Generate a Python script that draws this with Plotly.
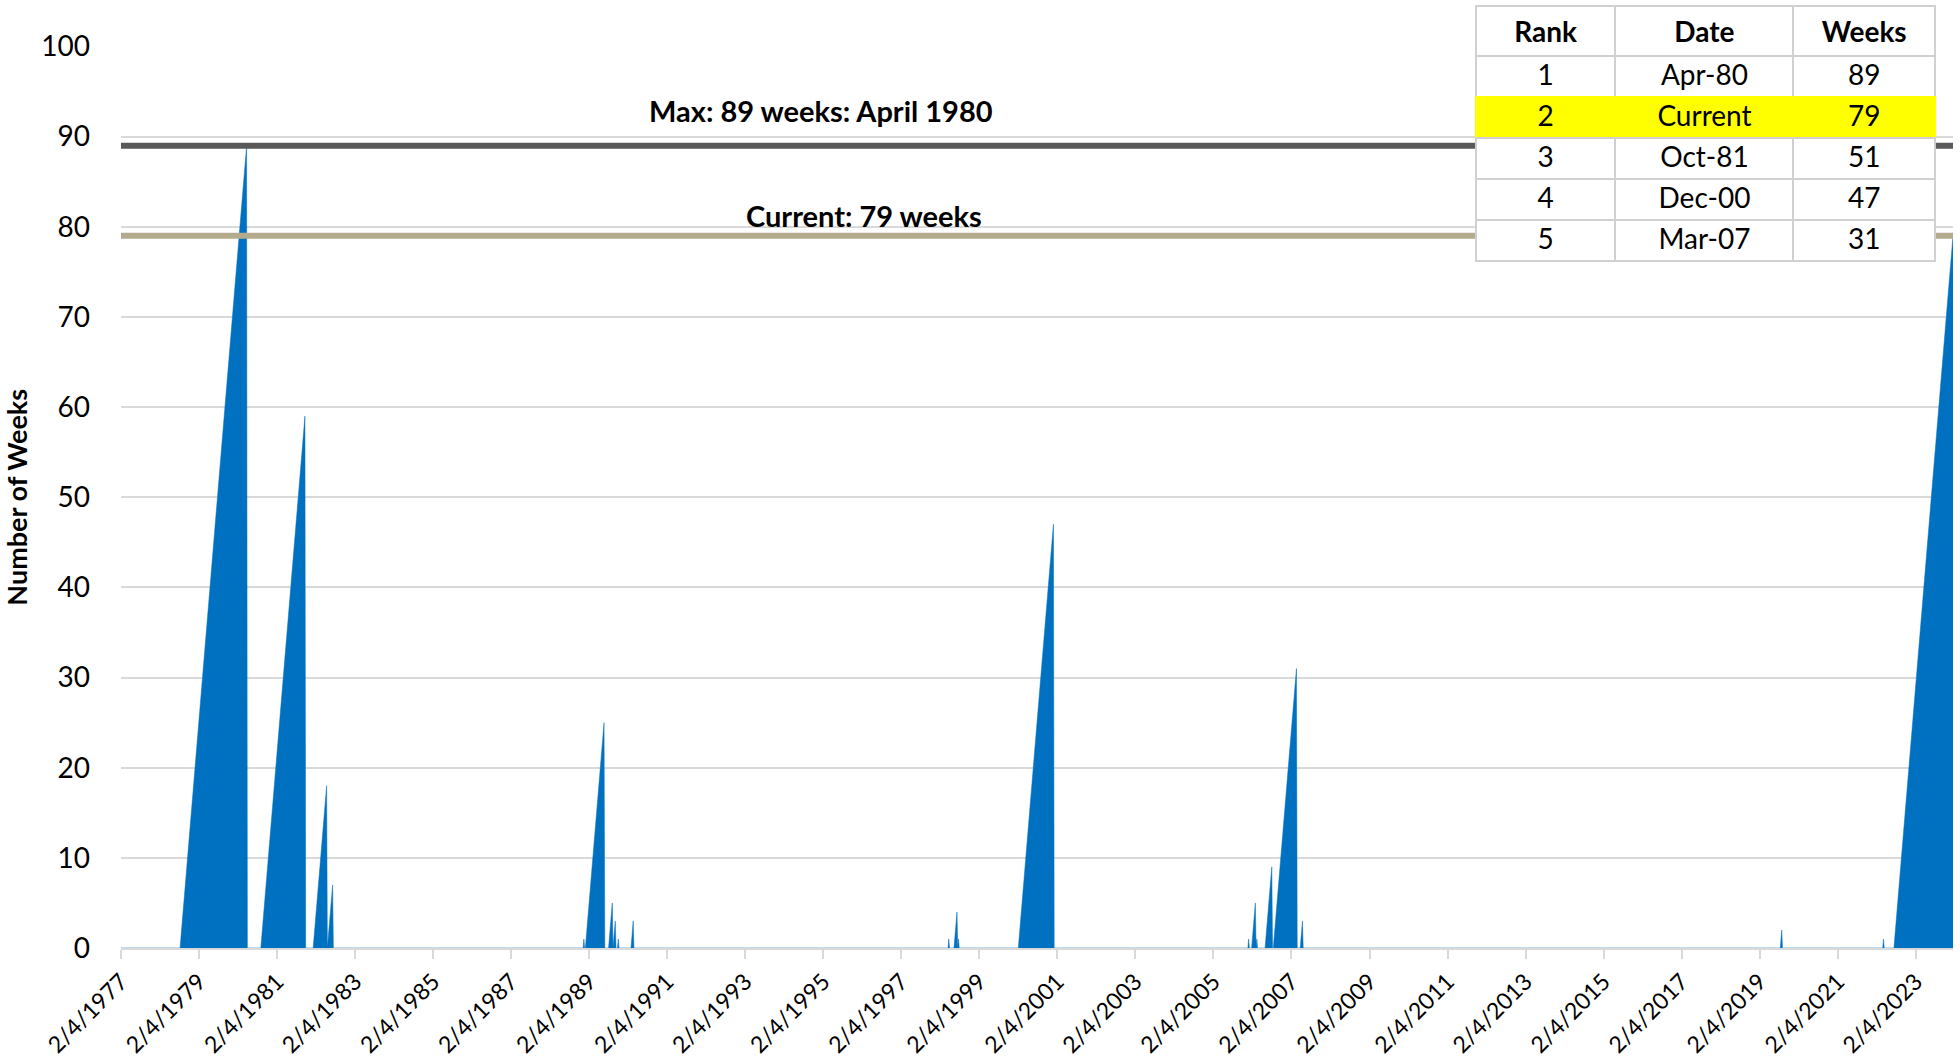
import plotly.graph_objects as go

# vertices of the inversion-streak area (week counter, resets to 0)
vertex_dates = [
    "1977-02-04", "1978-08-11", "1980-04-25", "1980-05-02",
    "1980-09-05", "1981-10-23", "1981-10-30",
    "1982-01-08", "1982-05-14", "1982-05-21", "1982-07-09", "1982-07-16",
    "1988-12-09", "1988-12-16", "1988-12-23",
    "1988-12-30", "1989-06-23", "1989-06-30",
    "1989-08-04", "1989-09-08", "1989-09-15", "1989-10-06", "1989-10-13",
    "1989-10-27", "1989-11-03", "1989-11-10",
    "1990-03-02", "1990-03-23", "1990-03-30",
    "1998-04-17", "1998-04-24", "1998-05-01",
    "1998-06-12", "1998-07-10", "1998-07-17", "1998-07-24", "1998-07-31",
    "2000-02-04", "2000-12-29", "2001-01-05",
    "2005-12-23", "2005-12-30", "2006-01-06",
    "2006-01-27", "2006-03-03", "2006-03-10", "2006-03-17", "2006-03-24",
    "2006-06-02", "2006-08-04", "2006-08-11",
    "2006-08-18", "2007-03-23", "2007-03-30",
    "2007-04-27", "2007-05-18", "2007-05-25",
    "2019-08-16", "2019-08-30", "2019-09-06",
    "2022-04-01", "2022-04-08", "2022-04-15",
    "2022-07-15", "2024-01-19",
]
weeks_inverted = [
    0, 0, 89, 0,
    0, 59, 0,
    0, 18, 0, 7, 0,
    0, 1, 0,
    0, 25, 0,
    0, 5, 0, 3, 0,
    0, 1, 0,
    0, 3, 0,
    0, 1, 0,
    0, 4, 0, 1, 0,
    0, 47, 0,
    0, 1, 0,
    0, 5, 0, 1, 0,
    0, 9, 0,
    0, 31, 0,
    0, 3, 0,
    0, 2, 0,
    0, 1, 0,
    0, 79,
]

max_weeks = 89
current_weeks = 79
x_start, x_end = "1977-02-04", "2024-01-19"

tick_years = list(range(1977, 2024, 2))
tick_vals = [f"{y}-02-04" for y in tick_years]
tick_text = [f"2/4/{y}" for y in tick_years]

rank = ["1", "2", "3", "4", "5"]
rank_dates = ["Apr-80", "Current", "Oct-81", "Dec-00", "Mar-07"]
rank_weeks = ["89", "79", "51", "47", "31"]
highlight_row = 1

FONT = "Lato"
GRID = "#D9D9D9"
YELLOW = "#FFFF00"
TABLE_LINE = "#D0D0D0"

fig = go.Figure()

fig.add_scatter(
    x=vertex_dates, y=weeks_inverted,
    mode="lines", fill="tozeroy",
    line=dict(color="#0070C0", width=0.5),
    fillcolor="#0070C0",
    hoverinfo="skip",
)

# reference lines
fig.add_scatter(
    x=[x_start, x_end], y=[max_weeks, max_weeks],
    mode="lines", line=dict(color="#595959", width=6), hoverinfo="skip",
)
fig.add_scatter(
    x=[x_start, x_end], y=[current_weeks, current_weeks],
    mode="lines", line=dict(color="#B4AA8E", width=6), hoverinfo="skip",
)

fig.add_annotation(
    x=0.382, xref="paper", y=92.9, yref="y",
    text=f"<b>Max: {max_weeks} weeks: April 1980</b>",
    showarrow=False, font=dict(size=29, color="black", family=FONT),
)
fig.add_annotation(
    x=0.4055, xref="paper", y=81.3, yref="y",
    text=f"<b>Current: {current_weeks} weeks</b>",
    showarrow=False, font=dict(size=29, color="black", family=FONT),
)

fill_col = [YELLOW if i == highlight_row else "white" for i in range(len(rank))]
line_col = [YELLOW if i == highlight_row else TABLE_LINE for i in range(len(rank))]

fig.add_trace(go.Table(
    domain=dict(x=[0.7396, 0.9902], y=[0.715, 1.0]),
    columnwidth=[141, 180, 143],
    header=dict(
        values=["<b>Rank</b>", "<b>Date</b>", "<b>Weeks</b>"],
        fill_color="white",
        line=dict(color=TABLE_LINE, width=2),
        align="center",
        height=41,
        font=dict(size=28, color="black", family=FONT),
    ),
    cells=dict(
        values=[rank, rank_dates, rank_weeks],
        fill_color=[fill_col, fill_col, fill_col],
        line=dict(color=[line_col, line_col, line_col], width=2),
        align="center",
        height=41,
        font=dict(size=28, color="black", family=FONT),
    ),
))

fig.update_layout(
    width=1960, height=1060,
    margin=dict(l=121, r=7, t=6, b=112, autoexpand=False),
    paper_bgcolor="white", plot_bgcolor="white",
    showlegend=False,
    font=dict(family=FONT, color="black"),
)

fig.update_xaxes(
    type="date",
    range=[x_start, x_end],
    tickvals=tick_vals, ticktext=tick_text,
    tickangle=-45,
    tickfont=dict(size=23, color="black", family=FONT),
    showgrid=False,
    showline=True, linecolor=GRID, linewidth=2,
    ticks="outside", ticklen=9, tickwidth=2, tickcolor=GRID,
    zeroline=False, automargin=False,
)
fig.update_yaxes(
    domain=[0, 0.957],
    range=[0, 100], dtick=10,
    tickfont=dict(size=28, color="black", family=FONT),
    showgrid=True, gridcolor=GRID, gridwidth=1.5,
    zeroline=False, showline=False,
    ticks="", ticklabelstandoff=30, automargin=False,
    title=dict(text="<b>Number of Weeks</b>", font=dict(size=27, family=FONT, color="black"), standoff=12),
)

# drop the default page margin so the figure sits at the window corner
fig.write_html(
    "out.html",
    config={"displayModeBar": False},
    post_script="document.body.style.margin='0px';",
)
